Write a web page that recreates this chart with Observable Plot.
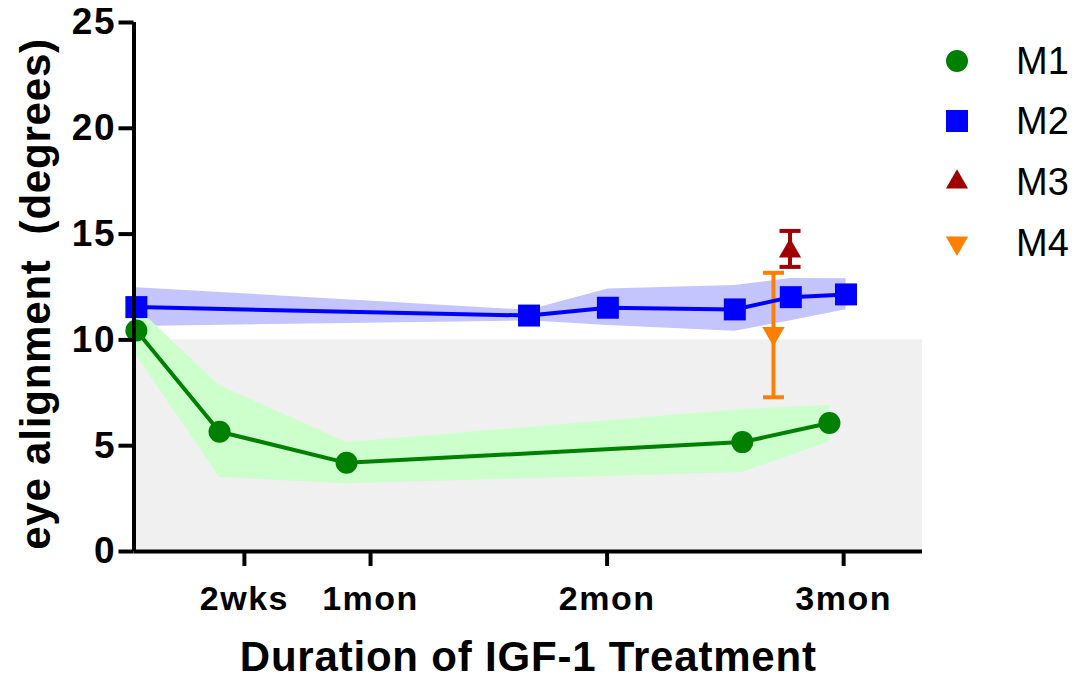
<!DOCTYPE html>
<html><head><meta charset="utf-8">
<script src="https://cdn.jsdelivr.net/npm/d3@7"></script>
<script src="https://cdn.jsdelivr.net/npm/@observablehq/plot@0.6"></script>
<style>
body{margin:0;background:#fff;}
#wrap{position:relative;width:1081px;height:679px;font-family:"Liberation Sans",Arial,sans-serif;}
#wrap svg text{font-weight:bold;}
g[aria-label="x-axis tick label"] text{letter-spacing:1.5px;}
g[aria-label="y-axis tick label"] text{letter-spacing:1.5px;}
.title text{letter-spacing:0.8px;}
.item{position:absolute;left:0;height:40px;display:flex;align-items:center;}
.item span{position:absolute;left:1016px;font-size:38px;font-weight:normal;color:#000;white-space:nowrap;line-height:40px;}
</style></head><body><div id="wrap"></div>
<script>
// ---- data ----
const series = ["M1", "M2", "M3", "M4"];
const colors = ["#008000", "#0000ff", "#a00000", "#ff8000"];
const bandColors = ["#ccffcc", "#c4c4ff"];

const m1Days = [0.3, 10.85, 26.96, 77.15, 88.2];
const m1Mean = [10.44, 5.66, 4.19, 5.17, 6.07];
const m1Lo   = [9.26, 3.5, 3.2, 3.73, 5.17];
const m1Hi   = [11.55, 7.85, 5.15, 6.71, 6.9];

const m2Days = [0.3, 50.1, 60.1, 76.2, 83.3, 90.3];
const m2Mean = [11.55, 11.15, 11.52, 11.44, 12.02, 12.15];
const m2Lo   = [10.63, 10.9, 10.68, 10.41, 10.9, 11.42];
const m2Hi   = [12.47, 11.4, 12.41, 12.57, 12.9, 12.89];

const m3Days = [83.2];
const m3Mean = [14.2];
const m3Lo   = [13.45];
const m3Hi   = [15.15];

const m4Days = [81.1];
const m4Mean = [10.3];
const m4Lo   = [7.29];
const m4Hi   = [13.17];

const xTicks = [14, 30, 60, 90];
const xTickLabels = ["2wks", "1mon", "2mon", "3mon"];
const yTicks = [0, 5, 10, 15, 20, 25];
const normalRange = [0, 10];
const xDomain = [0, 100];
const yDomain = [0, 25];
const xTitle = "Duration of IGF-1 Treatment";
const yTitle = "eye alignment  (degrees)";

// ---- build tables ----
const mk = (days, mean, lo, hi) => days.map((d, i) => ({day: d, mean: mean[i], lo: lo[i], hi: hi[i]}));
const M1 = mk(m1Days, m1Mean, m1Lo, m1Hi);
const M2 = mk(m2Days, m2Mean, m2Lo, m2Hi);
const M3 = mk(m3Days, m3Mean, m3Lo, m3Hi);
const M4 = mk(m4Days, m4Mean, m4Lo, m4Hi);
const tickLabel = new Map(xTicks.map((t, i) => [t, xTickLabels[i]]));

const capSymbol = {draw(ctx, size) { const w = Math.sqrt(size / Math.PI); ctx.moveTo(-w, 0); ctx.lineTo(w, 0); }};
const invTriangle = {draw(ctx, size) {
  const y = -Math.sqrt(size / (Math.sqrt(3) * 3));
  ctx.moveTo(0, -y * 2); ctx.lineTo(-Math.sqrt(3) * y, y); ctx.lineTo(Math.sqrt(3) * y, y); ctx.closePath();
}};

const errBar = (data, color) => [
  Plot.ruleX(data, {x: "day", y1: "lo", y2: "hi", stroke: color, strokeWidth: 4}),
  Plot.dot(data, {x: "day", y: "lo", symbol: capSymbol, r: 10.5, stroke: color, strokeWidth: 4, fill: "none"}),
  Plot.dot(data, {x: "day", y: "hi", symbol: capSymbol, r: 10.5, stroke: color, strokeWidth: 4, fill: "none"})
];

const chart = Plot.plot({
  width: 1081, height: 679,
  marginLeft: 133.5, marginRight: 159, marginTop: 22, marginBottom: 128,
  style: {fontFamily: "Liberation Sans, Arial, sans-serif", background: "#fff", overflow: "visible"},
  x: {domain: xDomain},
  y: {domain: yDomain},
  marks: [
    Plot.rect([normalRange], {x1: xDomain[0], x2: xDomain[1], y1: d => d[0], y2: d => d[1], fill: "#f0f0f0"}),
    Plot.areaY(M2, {x: "day", y1: "lo", y2: "hi", fill: bandColors[1]}),
    Plot.areaY(M1, {x: "day", y1: "lo", y2: "hi", fill: bandColors[0]}),
    ...errBar(M4, colors[3]),
    ...errBar(M3, colors[2]),
    Plot.line(M2, {x: "day", y: "mean", stroke: colors[1], strokeWidth: 4}),
    Plot.line(M1, {x: "day", y: "mean", stroke: colors[0], strokeWidth: 4}),
    Plot.dot(M4, {x: "day", y: "mean", symbol: invTriangle, r: 8.3, fill: colors[3]}),
    Plot.dot(M3, {x: "day", y: "mean", symbol: "triangle", r: 8.2, fill: colors[2]}),
    Plot.dot(M2, {x: "day", y: "mean", symbol: "square", r: 12.4, fill: colors[1]}),
    Plot.dot(M1, {x: "day", y: "mean", symbol: "circle", r: 11, fill: colors[0]}),
    Plot.ruleX([xDomain[0]], {stroke: "#000", strokeWidth: 4}),
    Plot.ruleY([yDomain[0]], {stroke: "#000", strokeWidth: 4}),
    Plot.axisY({ticks: yTicks, tickSize: 15, tickPadding: 3, fontSize: 37, fontWeight: "bold", strokeWidth: 4, stroke: "#000", color: "#000", label: null}),
    Plot.axisX({ticks: xTicks, tickFormat: d => tickLabel.get(d), tickSize: 15, tickPadding: 19, fontSize: 34, fontWeight: "bold", strokeWidth: 4, stroke: "#000", color: "#000", label: null}),
    Plot.text([xTitle], {text: d => d, frameAnchor: "bottom", textAnchor: "middle", dy: 106, fontSize: 42, fontWeight: "bold", lineAnchor: "middle", fill: "#000", className: "title"}),
    Plot.text([yTitle], {text: d => d, frameAnchor: "left", textAnchor: "middle", rotate: -90, dx: -97, dy: 7, fontSize: 42, fontWeight: "bold", lineAnchor: "middle", fill: "#000", className: "title"})
  ]
});
const wrap = document.getElementById("wrap");
wrap.appendChild(chart);

// ---- legend ----
const symbols = [d3.symbolCircle, d3.symbolSquare, d3.symbolTriangle, invTriangle];
const symR = [11, 12.4, 8.2, 8.3];
series.forEach((name, i) => {
  const item = document.createElement("div");
  item.className = "item";
  item.style.top = (60.7 + i * 60.6 - 20) + "px";
  const svg = d3.create("svg").attr("width", 40).attr("height", 40)
    .style("position", "absolute").style("left", "937px").style("top", "0px");
  svg.append("path").attr("transform", "translate(20,20)")
    .attr("d", d3.symbol(symbols[i], symR[i] * symR[i] * Math.PI)())
    .attr("fill", colors[i]);
  item.appendChild(svg.node());
  const sp = document.createElement("span");
  sp.textContent = name;
  item.appendChild(sp);
  wrap.appendChild(item);
});
</script></body></html>
